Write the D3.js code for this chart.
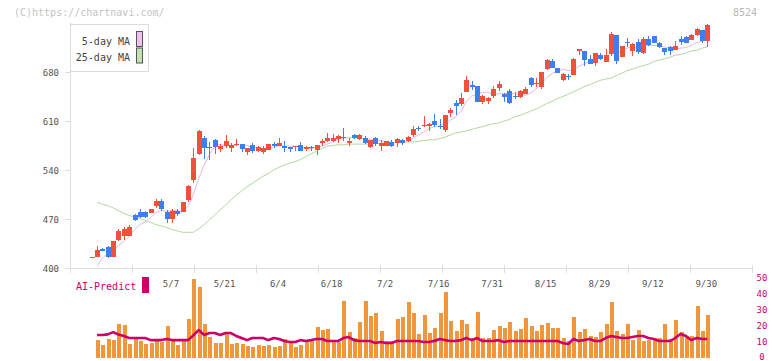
<!DOCTYPE html>
<html><head><meta charset="utf-8">
<script src="https://cdn.jsdelivr.net/npm/d3@7"></script>
<style>
body{margin:0;background:#fff}
svg{display:block}
text{font-family:"DejaVu Sans Mono","Liberation Mono",monospace}
</style>
</head><body>
<svg id="chart" width="772" height="361"></svg>
<script>
// ---------- data ----------
const dates = [
 "4/11","4/14","4/15","4/16","4/17","4/18","4/21","4/22","4/23","4/24","4/25","4/28","4/30",
 "5/1","5/2","5/7","5/8","5/9","5/12","5/13","5/14","5/15","5/16","5/19","5/20","5/21","5/22","5/23","5/26","5/27","5/28","5/29","5/30",
 "6/2","6/3","6/4","6/5","6/6","6/9","6/10","6/11","6/12","6/13","6/16","6/17","6/18","6/19","6/20","6/23","6/24","6/25","6/26","6/27","6/30",
 "7/1","7/2","7/3","7/4","7/7","7/8","7/9","7/10","7/11","7/14","7/15","7/16","7/17","7/18","7/22","7/23","7/24","7/25","7/28","7/29","7/30","7/31",
 "8/1","8/4","8/5","8/6","8/7","8/8","8/12","8/13","8/14","8/15","8/18","8/19","8/20","8/21","8/22","8/25","8/26","8/27","8/28","8/29",
 "9/1","9/2","9/3","9/4","9/5","9/8","9/9","9/10","9/11","9/12","9/16","9/17","9/18","9/19","9/22","9/24","9/25","9/26","9/29","9/30"
];
const openP = [416,416,427,430,416,440,446,446,476,480,
 480,479,489,496,480,470,481,480,497,526,
 563,586,573,583,570,574,571,576,577,566,
 576,567,566,569,577,574,574,573,573,576,
 570,573,569,580,581,581,584,587,579,590,
 584,586,573,586,574,574,580,579,583,581,
 590,600,603,603,610,603,597,621,636,634,
 651,661,660,637,639,646,657,649,653,646,
 644,649,671,663,659,684,696,686,669,674,
 676,710,710,699,693,704,694,706,733,701,
 723,710,723,707,727,731,721,714,716,711,
 727,730,726,733,740,724];
const highP = [416,431,428,432,439,456,459,461,477,484,
 482,485,499,499,483,484,484,494,519,571,
 597,589,580,585,577,590,579,584,577,572,
 579,574,574,577,580,586,581,573,575,580,
 574,575,576,584,593,591,590,600,586,592,
 591,588,583,587,583,581,583,586,584,589,
 603,603,617,607,620,613,619,629,640,650,
 674,667,660,647,644,660,667,650,656,651,
 654,659,673,671,680,699,699,686,679,677,
 700,713,710,704,707,707,713,737,733,717,
 729,721,727,730,731,731,723,714,717,724,
 731,731,734,743,740,749];
const lowP = [416,416,424,415,416,438,440,446,467,471,
 471,478,486,482,464,464,475,480,494,521,
 561,556,554,563,566,571,566,574,566,561,
 564,566,563,569,571,574,566,566,567,567,
 567,567,561,574,580,580,579,581,574,585,
 583,577,571,574,567,574,573,573,576,580,
 587,596,601,596,601,599,594,616,619,631,
 651,654,637,634,634,643,653,637,634,641,
 643,649,659,659,656,683,686,679,667,669,
 676,704,689,691,689,697,694,703,691,701,
 716,703,706,706,717,721,714,704,704,711,
 719,721,726,732,721,716];
const closeP = [416,426,425,416,439,453,456,459,469,473,
 473,484,496,484,470,481,477,494,517,557,
 596,571,571,573,574,581,576,577,570,571,
 567,573,571,577,574,579,571,570,574,567,
 573,571,576,581,586,586,589,586,581,586,
 590,579,583,577,579,581,574,584,579,587,
 599,599,604,606,604,601,619,626,631,643,
 669,659,637,646,643,656,663,644,636,644,
 653,656,661,664,680,697,686,679,677,673,
 699,713,697,691,707,699,704,734,696,717,
 721,720,709,727,719,721,716,709,710,717,
 723,721,733,741,724,747];
const ma5 = [null,403,414,421,424,432,438,445,455,462,
 466,472,479,482,481,482,482,481,488,505,
 528,547,562,574,577,574,575,576,576,575,
 572,572,570,572,572,575,574,574,574,572,
 571,571,572,574,577,580,584,586,586,586,
 586,584,584,583,582,580,579,579,579,581,
 585,590,594,599,602,603,607,611,616,624,
 638,646,648,651,651,648,649,650,648,649,
 648,647,650,656,663,672,678,681,684,682,
 683,688,692,695,701,701,700,707,708,710,
 714,717,713,718,718,718,717,716,714,713,
 714,715,718,722,724,727];
const ma25 = [null,494,491,489,486,482,478,475,473,471,
 468,465,462,460,458,455,453,451,451,451,
 456,462,469,476,483,490,497,504,510,516,
 521,526,531,535,540,544,547,550,552,555,
 559,563,567,571,574,575,576,576,577,577,
 577,577,577,578,578,579,579,580,580,580,
 580,581,582,583,583,585,587,590,593,594,
 596,598,600,602,604,606,607,610,612,616,
 618,621,624,627,631,635,638,642,645,648,
 652,655,659,662,665,668,670,671,675,678,
 682,684,687,689,691,695,697,699,701,704,
 705,707,710,711,714,716];
const volume = [null,11,7.9,11.7,11,21,20.4,8.6,11.7,10.4,
 8.6,9.2,10.4,9.8,19.8,10.4,7.9,10.4,24.2,49.2,
 44.2,21,12.9,9.2,9.2,16.1,8.6,9.2,8.6,7.3,
 6.7,7.9,7.3,7.9,6.7,7.3,11.7,9.8,6.7,7.9,
 9.8,10.4,19.2,17.3,17.9,9.8,9.8,35.4,16.1,12.3,
 22.3,35.4,26.1,27.9,16.7,10.4,10.4,24.2,25.4,34.8,
 27.9,14.8,26.7,15.4,18.5,27.9,41.1,23.0,16.7,23.6,
 21.1,12.3,28.5,12.3,12.3,17.3,19.8,18.5,22.3,16.7,
 17.9,24.8,19.8,16.7,20.4,21.6,18.5,18.5,12.3,10.4,
 25.4,16.1,17.9,13.6,12.9,16.1,21.1,34.8,16.7,14.8,
 21.1,11.0,17.3,10.4,11.0,12.3,12.3,21.1,11.7,23.6,
 16.1,13.6,13.6,32.3,16.7,26.7];
const aiPredict = [null,14.2,14.2,14.6,16,14.5,13.6,12.3,12.3,12.3,
 12.3,11,11,11,11.7,11,11,11,11,14,
 17.3,14.2,15.4,15.4,14.2,15.4,15.4,13.6,12.3,11,
 12.3,12.3,12.3,11,12.3,11.7,10.4,9.8,9.8,11,
 10.4,11,11.7,11.7,10.4,10.4,10.4,12.3,12.9,11,
 10.4,10.4,10.4,9.2,9.8,9.2,9.2,10.4,10.4,10.4,
 10.4,10.4,9.8,9.8,10.4,11.7,11,10.4,10.4,11,
 12.3,11,12.3,10.4,10.4,10.4,11,9.8,10.4,10.4,
 10.4,10.4,10.4,10.4,10.4,10.4,10.4,10.4,9.2,8.6,
 11.7,10.4,11,11.7,10.4,10.4,12.3,13.6,12.9,12.3,
 12.3,12.9,13.6,13.6,12.3,11.7,10.4,10.4,10.4,12.3,
 14.8,13.6,11,12.3,11.7,11.7];
const xLabels = ["5/7","5/21","6/4","6/18","7/2","7/16","7/31","8/15","8/29","9/12","9/30"];
const priceTicks = [400,470,540,610,680];
const volTicks = [0,10,20,30,40,50];
const legendItems = ["5-day MA","25-day MA"];

// ---------- layout ----------
const C = {
  up:"#f0503c", down:"#3d7ef0", ma5:"#e8b4e8", ma25:"#b2d8a2",
  vol:"#f0963c", ai:"#cc0066", axis:"#dedede", label:"#555"
};
const svg = d3.select("#chart");
svg.append("rect").attr("width",772).attr("height",361).attr("fill","#fff");

const L = 70, R = 752, T = 23, B = 268;
const x = d3.scaleLinear().domain([0, dates.length-1]).range([91.7, 707.3]);
const y = d3.scaleLinear().domain([400, 750]).range([B, T]);
const yv = d3.scaleLinear().domain([0, 50]).range([357.7, 277.7]);

// header
svg.append("text").attr("x",14).attr("y",16).attr("font-size",10).attr("fill","#c4c4c4")
  .text("(C)https://chartnavi.com/");
svg.append("text").attr("x",757).attr("y",16).attr("text-anchor","end").attr("font-size",10).attr("fill","#b8b8b8")
  .text("8524");

// axes
const ax = svg.append("g").attr("stroke",C.axis).attr("stroke-width",1).attr("shape-rendering","crispEdges");
ax.append("line").attr("x1",L+0.5).attr("x2",L+0.5).attr("y1",T).attr("y2",B);
ax.append("line").attr("x1",65).attr("x2",R).attr("y1",B+0.5).attr("y2",B+0.5);
priceTicks.forEach(v=>{
  ax.append("line").attr("x1",65).attr("x2",L).attr("y1",Math.round(y(v))+0.5).attr("y2",Math.round(y(v))+0.5);
});
d3.range(12).forEach(k=>{
  const xx = Math.round(L + k*(R-L)/11)+0.5;
  ax.append("line").attr("x1",xx).attr("x2",xx).attr("y1",B-3).attr("y2",B+5);
});
svg.append("g").selectAll("text").data(priceTicks).join("text")
  .attr("x",59).attr("y",v=>y(v)+3.5).attr("text-anchor","end")
  .attr("font-size",9).attr("fill",C.label).text(d=>d);
svg.append("g").selectAll("text").data(xLabels).join("text")
  .attr("x",d=>x(dates.indexOf(d))-1).attr("y",286.5).attr("text-anchor","middle")
  .attr("font-size",9).attr("fill",C.label).text(d=>d);

// moving averages
const lineGen = sc => d3.line().defined(d=>d!=null).x((d,i)=>x(i)).y(d=>sc(d));
svg.append("path").datum(ma25).attr("d",lineGen(y)).attr("fill","none").attr("stroke",C.ma25).attr("stroke-width",1);
svg.append("path").datum(ma5).attr("d",lineGen(y)).attr("fill","none").attr("stroke",C.ma5).attr("stroke-width",1);

// candles
const cg = svg.append("g").attr("shape-rendering","crispEdges");
dates.forEach((d,i)=>{
  const o=openP[i], c=closeP[i], h=highP[i], l=lowP[i];
  const col = c>=o ? C.up : C.down;
  const cx = Math.round(x(i));
  cg.append("line").attr("x1",cx+0.5).attr("x2",cx+0.5).attr("y1",y(h)).attr("y2",y(l))
    .attr("stroke",col).attr("stroke-width",1);
  const top = Math.min(y(o),y(c)), hgt = Math.max(1.2, Math.abs(y(o)-y(c)));
  cg.append("rect").attr("x",cx-2).attr("y",top).attr("width",5).attr("height",hgt).attr("fill",col);
});

// legend
const lg = svg.append("g");
lg.append("rect").attr("x",L+0.5).attr("y",24.5).attr("width",78).attr("height",47)
  .attr("fill","#fff").attr("stroke","#dcdcdc");
const swatch = ["#f0c0f0","#c2e2b2"];
legendItems.forEach((t,k)=>{
  lg.append("text").attr("x",130).attr("y",45+k*16).attr("text-anchor","end")
    .attr("font-size",10).attr("fill","#444").text(t);
  lg.append("rect").attr("x",136.5).attr("y",31.5+k*16.5).attr("width",6).attr("height",15)
    .attr("fill",swatch[k]).attr("stroke","#555");
});

// volume panel
const vg = svg.append("g").attr("shape-rendering","crispEdges");
volume.forEach((v,i)=>{
  if(v==null) return;
  const cx = Math.round(x(i));
  vg.append("rect").attr("x",cx-1.5).attr("y",yv(v)).attr("width",4).attr("height",yv(0)-yv(v)).attr("fill",C.vol);
});
svg.append("path").datum(aiPredict).attr("d",lineGen(yv)).attr("fill","none")
  .attr("stroke",C.ai).attr("stroke-width",2.6).attr("stroke-linejoin","round");
svg.append("g").selectAll("text").data(volTicks).join("text")
  .attr("x",762).attr("y",v=>Math.min(yv(v)+3.5, 359.5)).attr("text-anchor","middle")
  .attr("font-size",9).attr("fill",C.ai).text(d=>d);
svg.append("text").attr("x",76).attr("y",289.5).attr("font-size",10).attr("fill",C.ai).text("AI-Predict");
svg.append("rect").attr("x",142).attr("y",277).attr("width",7).attr("height",16).attr("fill",C.ai);
</script>
</body></html>
